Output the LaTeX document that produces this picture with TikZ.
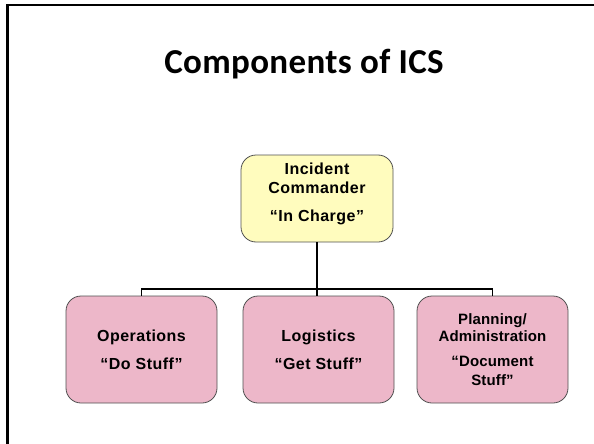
\documentclass[tikz,border=0pt]{standalone}
\usepackage{fontspec}
\setmainfont{Liberation Sans}
\newfontfamily\titlefont[LetterSpace=1]{Carlito}
\newfontfamily\boxfont[LetterSpace=3]{Liberation Sans}
\newfontfamily\planfont[LetterSpace=1]{Liberation Sans}
\definecolor{icyellow}{HTML}{FFFCBE}
\definecolor{icpink}{HTML}{EDB7C9}
\definecolor{icborder}{HTML}{505050}
\begin{document}
\begin{tikzpicture}[x=1pt,y=-1pt,
  boxstyle/.style={draw=icborder,line width=0.8pt,rounded corners=15pt,inner sep=0pt,align=center},
  topbox/.style={boxstyle,fill=icyellow,minimum width=152pt,minimum height=87pt},
  lowbox/.style={boxstyle,fill=icpink,minimum width=151pt,minimum height=107pt},
  conn/.style={line width=1.5pt,black},
  frameline/.style={line width=2.5pt,black}]
\useasboundingbox (0,0) rectangle (594,444);
\draw[frameline] (7.5,444) -- (7.5,5) -- (594,5);
\node[font=\titlefont\bfseries\fontsize{35}{40}\selectfont,anchor=base] (title) at (304,73.5) {Components of ICS};
\node[topbox,font=\boxfont\bfseries\fontsize{16}{19.5}\selectfont] (ic) at (317,198.5) {Incident\\Commander\\[8.5pt]“In Charge”\\[-7pt]};
\node[lowbox,font=\boxfont\bfseries\fontsize{16}{28}\selectfont] (ops) at (141.5,349.5) {Operations\\“Do Stuff”};
\node[lowbox,font=\boxfont\bfseries\fontsize{16}{28}\selectfont] (log) at (318.5,349.5) {Logistics\\“Get Stuff”};
\node[lowbox,font=\planfont\bfseries\fontsize{15}{17}\selectfont] (plan) at (492.5,349.5) {Planning/\\Administration\\[8pt]“Document\\[2pt]Stuff”};
\coordinate (bar) at (317,289);
\draw[conn] (ic.south) -- (bar) -- (bar |- log.north);
\draw[conn] (ops.north) |- (bar) -| (plan.north);
\end{tikzpicture}
\end{document}
